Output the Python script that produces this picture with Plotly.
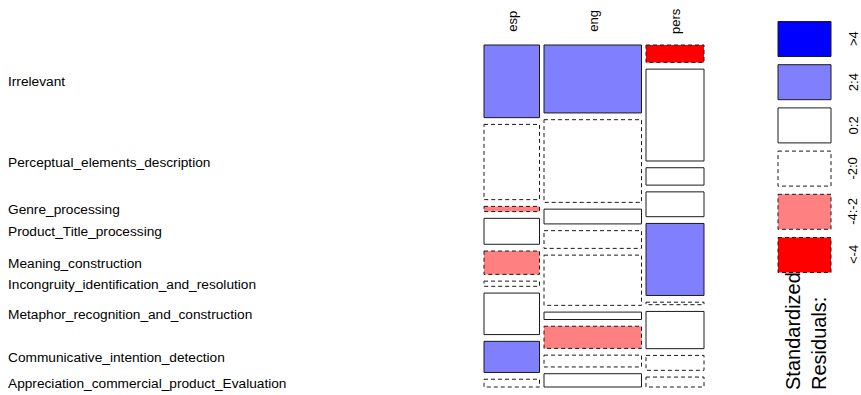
import plotly.graph_objects as go

# Contingency table: rows = answer category, columns = language group
categories = [
    "Irrelevant",
    "Perceptual_elements_description",
    "Genre_processing",
    "Product_Title_processing",
    "Meaning_construction",
    "Incongruity_identification_and_resolution",
    "Metaphor_recognition_and_construction",
    "Communicative_intention_detection",
    "Appreciation_commercial_product_Evaluation",
]
groups = ["esp", "eng", "pers"]

counts_esp = [28, 29, 2, 10, 9, 2, 16, 12, 3]
counts_eng = [46, 56, 10, 12, 34, 5, 15, 8, 9]
counts_pers = [7, 37, 7, 10, 29, 1, 15, 6, 4]

# Standardized (Pearson) residuals per cell, used for shading
resid_esp = [2.6, -1.2, -2.4, 0.8, -2.3, -0.6, 1.1, 2.5, -0.9]
resid_eng = [2.8, -1.0, 0.5, -0.7, -1.1, 0.4, -2.2, -0.8, 0.9]
resid_pers = [-4.5, 1.6, 1.2, 0.7, 3.2, -0.3, 1.0, -0.6, -0.5]

# Shading bands of the residual legend
band_labels = [">4", "2:4", "0:2", "-2:0", "-4:-2", "<-4"]
band_lower = [4, 2, 0, -2, -4, -float("inf")]
band_fill = ["#0000FF", "#8080FF", "#FFFFFF", "#FFFFFF", "#FF8080", "#FF0000"]
band_dashed = [False, False, False, True, True, True]

FONT = "Liberation Sans, Arial, sans-serif"
W, H = 861, 395

# mosaic area (axis units = pixels)
M_LEFT, M_RIGHT, M_TOP, M_BOTTOM = 484, 704, 45, 387
GAP_X, GAP_Y = 4.5, 6.75


def band_of(r):
    for i, lo in enumerate(band_lower):
        if r > lo:
            return i
    return len(band_lower) - 1


def line_style(dashed):
    return dict(color="#1a1a1a", width=1, dash="4px,3px" if dashed else "solid")


columns = [counts_esp, counts_eng, counts_pers]
residuals = [resid_esp, resid_eng, resid_pers]
col_totals = [sum(c) for c in columns]
grand = sum(col_totals)
avail_w = (M_RIGHT - M_LEFT) - GAP_X * (len(groups) - 1)
avail_h = (M_BOTTOM - M_TOP) - GAP_Y * (len(categories) - 1)

shapes = []
annotations = []

x0 = M_LEFT
for ci, (cnts, res) in enumerate(zip(columns, residuals)):
    w = avail_w * col_totals[ci] / grand
    y0 = M_TOP
    for ri, (n, r) in enumerate(zip(cnts, res)):
        h = avail_h * n / col_totals[ci]
        b = band_of(r)
        shapes.append(dict(
            type="rect", xref="x", yref="y",
            x0=x0, x1=x0 + w, y0=y0, y1=y0 + h,
            fillcolor=band_fill[b], line=line_style(band_dashed[b]),
        ))
        if ci == 0:
            annotations.append(dict(
                x=6, y=y0 + h / 2 + 0.5, xref="x", yref="y", text=categories[ri],
                showarrow=False, xanchor="left", yanchor="middle",
                font=dict(family=FONT, size=13.7, color="black"),
            ))
        y0 += h + GAP_Y
    annotations.append(dict(
        x=x0 + w / 2, y=21, xref="x", yref="y", text=groups[ci],
        showarrow=False, textangle=-90, xanchor="center", yanchor="middle",
        font=dict(family=FONT, size=13, color="black"),
    ))
    x0 += w + GAP_X

# residual legend
L_X0, L_X1 = 778, 831
L_TOP, L_BOX, L_STEP = 21.5, 35, 43.2
for i, lab in enumerate(band_labels):
    top = L_TOP + i * L_STEP
    shapes.append(dict(
        type="rect", xref="x", yref="y",
        x0=L_X0, x1=L_X1, y0=top, y1=top + L_BOX,
        fillcolor=band_fill[i], line=line_style(band_dashed[i]),
    ))
    annotations.append(dict(
        x=853, y=top + L_BOX / 2, xref="x", yref="y", text=lab,
        showarrow=False, textangle=-90, xanchor="center", yanchor="middle",
        font=dict(family=FONT, size=13, color="black"),
    ))

annotations.append(dict(
    x=806, y=392, xref="x", yref="y", text="Standardized<br>Residuals:",
    showarrow=False, textangle=-90, xanchor="center", yanchor="bottom",
    align="left", font=dict(family=FONT, size=20, color="black"),
))

fig = go.Figure()
fig.update_layout(
    width=W, height=H,
    margin=dict(l=0, r=0, t=0, b=0),
    paper_bgcolor="white", plot_bgcolor="white",
    xaxis=dict(range=[0, W], visible=False, fixedrange=True),
    yaxis=dict(range=[H, 0], visible=False, fixedrange=True),
    shapes=shapes, annotations=annotations,
    showlegend=False,
)
fig.write_html("out.html")
